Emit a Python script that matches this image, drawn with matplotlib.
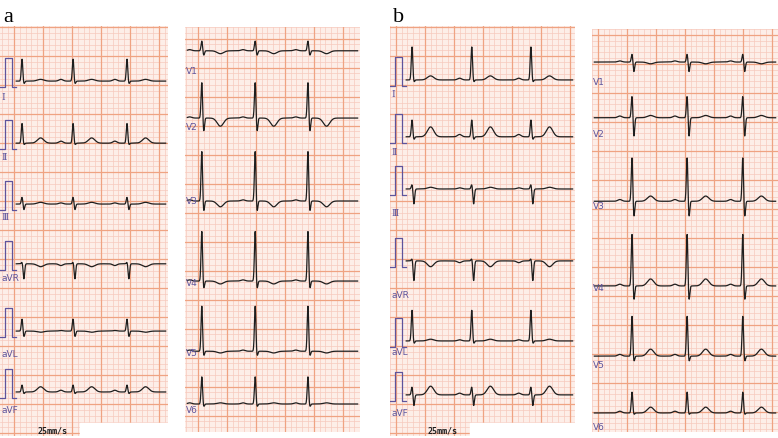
import matplotlib.pyplot as plt
import numpy as np

W, H = 778, 439
PX = 5.8  # px per small grid square (1 mm)

# strip frames in px: left, top, right, bottom
frames = {
    'a_limb': (0, 27, 168, 437),
    'a_chest': (185, 28, 360, 433),
    'b_limb': (390, 27, 575, 437),
    'b_chest': (592, 30, 778, 433),
}
# grid phase (mm) of the first thick line, x and y
grid_off = {'a_limb': (2.4, 0.2), 'a_chest': (2.2, 2.0),
            'b_limb': (1.0, 0.2), 'b_chest': (1.0, 1.0)}

limb_leads = ['Ⅰ', 'Ⅱ', 'Ⅲ', 'aVR', 'aVL', 'aVF']
chest_leads = ['V1', 'V2', 'V3', 'V4', 'V5', 'V6']

# beat positions along paper (mm from strip left)
beats = {
    'a_limb': [3.8, 12.6, 21.9],
    'a_chest': [2.9, 12.1, 21.2],
    'b_limb': [3.8, 14.1, 24.3],
    'b_chest': [6.9, 16.4, 26.0],
}
# baseline of each lead (mm from strip top)
baseline = {
    'a_limb': [9.5, 20.2, 30.7, 41.0, 52.6, 63.1],
    'a_chest': [4.1, 15.7, 30.0, 43.8, 55.9, 65.0],
    'b_limb': [9.3, 19.1, 28.1, 40.5, 54.3, 63.6],
    'b_chest': [5.7, 15.3, 29.7, 44.3, 56.4, 66.2],
}
# wave amplitudes in mm (P, R, S depth, T)
p_amp = {
    'a_limb': [0.3, 0.35, 0.2, -0.3, 0.1, 0.3],
    'a_chest': [0.2, 0.2, 0.2, 0.2, 0.2, 0.2],
    'b_limb': [0.3, 0.4, 0.2, -0.3, 0.2, 0.3],
    'b_chest': [0.2, 0.3, 0.3, 0.3, 0.3, 0.3],
}
r_amp = {
    'a_limb': [3.8, 3.4, 1.2, 0.3, 2.1, 1.2],
    'a_chest': [1.7, 6.2, 8.6, 8.6, 7.8, 4.7],
    'b_limb': [5.7, 2.9, 0.8, 0.4, 5.3, 1.4],
    'b_chest': [1.4, 3.8, 7.6, 9.0, 6.9, 3.6],
}
s_amp = {
    'a_limb': [0.5, 0.3, 1.0, 2.6, 1.0, 0.3],
    'a_chest': [0.8, 2.4, 1.9, 1.4, 0.9, 0.5],
    'b_limb': [0.4, 0.5, 2.6, 3.4, 0.5, 1.9],
    'b_chest': [1.7, 3.3, 2.8, 2.6, 1.0, 0.3],
}
t_amp = {
    'a_limb': [0.3, 0.9, 0.3, -0.5, -0.2, 0.9],
    'a_chest': [-0.5, -1.4, -1.0, -0.5, -0.3, 0.2],
    'b_limb': [0.7, 1.7, 0.3, -1.0, 0.3, 1.5],
    'b_chest': [-0.3, 0.4, 0.9, 1.2, 1.2, 1.0],
}

# label y (mm below baseline)
label_off = {
    'a_limb': [2.6, 2.3, 2.1, 2.4, 3.9, 3.0],
    'a_chest': [3.4, 1.5, 0.0, 0.2, 0.2, 1.0],
    'b_limb': [2.3, 2.6, 4.0, 5.8, 1.8, 3.0],
    'b_chest': [3.3, 2.8, 0.8, 0.2, 1.5, 2.4],
}

BG = '#fdeee8'
MINOR = '#f7c9bd'
MAJOR = '#efa382'
INK = '#1e1e1e'
PURPLE = '#5e549c'


def g(x, s):
    return np.exp(-0.5 * (x / s) ** 2)


def ecg(t, bts, p, r, s, tw):
    y = np.zeros_like(t)
    for b in bts:
        d = t - b
        y += p * g(d + 2.1, 0.35)
        y += r * g(d, 0.13)
        y -= s * g(d - 0.32, 0.13)
        y += tw * g(d - 3.2, 0.55)
    return y


fig = plt.figure(figsize=(W / 100, H / 100), dpi=100)
fig.patch.set_facecolor('white')

for key, (l, t0, r, b) in frames.items():
    w_mm = (r - l) / PX
    h_mm = (b - t0) / PX
    ax = fig.add_axes([l / W, 1 - b / H, (r - l) / W, (b - t0) / H])
    ax.set_xlim(0, w_mm)
    ax.set_ylim(h_mm, 0)
    ax.set_facecolor(BG)
    ax.axis('off')
    ax.add_patch(plt.Rectangle((0, 0), w_mm, h_mm, color=BG, zorder=0))
    ox, oy = grid_off[key]
    for x in np.arange(ox % 1, w_mm, 1.0):
        major = abs(((x - ox) / 5) - round((x - ox) / 5)) < 1e-6
        ax.axvline(x, color=MAJOR if major else MINOR,
                   lw=0.9 if major else 0.5, zorder=1 + major)
    for y in np.arange(oy % 1, h_mm, 1.0):
        major = abs(((y - oy) / 5) - round((y - oy) / 5)) < 1e-6
        ax.axhline(y, color=MAJOR if major else MINOR,
                   lw=0.9 if major else 0.5, zorder=1 + major)

    limb = 'limb' in key
    names = limb_leads if limb else chest_leads
    start = 2.8 if limb else 0.4
    tt = np.arange(start, w_mm - 0.4, 0.02)
    for i, nm in enumerate(names):
        base = baseline[key][i]
        yy = ecg(tt, beats[key], p_amp[key][i], r_amp[key][i],
                 s_amp[key][i], t_amp[key][i])
        ax.plot(tt, base - yy, color=INK, lw=0.9, zorder=5)
        if limb:
            # 1 mV calibration pulse
            cb = base + 1.0
            cx = [0.0, 0.9, 0.9, 2.1, 2.1, 2.8]
            cy = [cb, cb, cb - 5.0, cb - 5.0, cb, cb]
            ax.plot(cx, cy, color=PURPLE, lw=0.9, zorder=4)
            fam = 'DejaVu Serif' if nm.startswith('Ⅰ') or nm[0] in 'ⅡⅢ' else 'DejaVu Sans'
            ax.text(0.3, base + label_off[key][i], nm, color=PURPLE,
                    fontsize=6.5, family=fam, va='center', ha='left', zorder=6)
        else:
            ax.text(0.2, base + label_off[key][i], nm, color=PURPLE,
                    fontsize=6.5, va='center', ha='left', zorder=6)

    if limb:
        # white box beside the paper-speed note
        ax.add_patch(plt.Rectangle((80 / PX, (b - t0 - 13) / PX), w_mm, 3,
                                   color='white', zorder=7, clip_on=True))
        ax.text(6.5, h_mm - 1.0, '25mm/s', fontsize=6, family='DejaVu Sans Mono',
                weight='bold', color=INK, va='center', ha='left', zorder=8)

fig.text(3 / W, 1 - 22 / H, 'a', fontsize=16, family='Liberation Serif')
fig.text(393 / W, 1 - 22 / H, 'b', fontsize=16, family='Liberation Serif')

fig.savefig('out.png', dpi=100)
